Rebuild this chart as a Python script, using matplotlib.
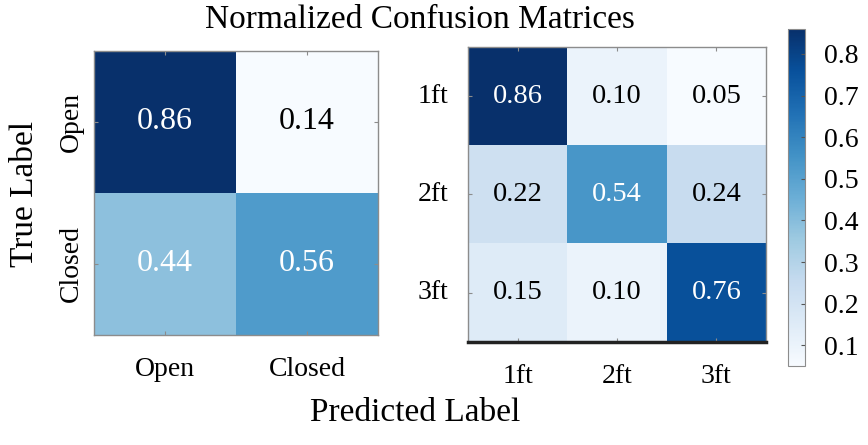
import numpy as np
import matplotlib
matplotlib.use("Agg")
import matplotlib.pyplot as plt
from matplotlib.colors import Normalize
from matplotlib.cm import ScalarMappable

# données
labels_oc = ['Open', 'Closed']
cm_oc = np.array([[0.86, 0.14],
                  [0.44, 0.56]])

labels_ft = ['1ft', '2ft', '3ft']
cm_ft = np.array([[0.86, 0.10, 0.05],
                  [0.22, 0.54, 0.24],
                  [0.15, 0.10, 0.76]])

cbar_ticks = [0.1, 0.2, 0.3, 0.4, 0.5, 0.6, 0.7, 0.8]

plt.rcParams['font.family'] = ['Liberation Serif', 'DejaVu Serif']

fig = plt.figure(figsize=(8.68, 4.45), dpi=100)
ax1 = fig.add_axes([0.1083, 0.2472, 0.3272, 0.6382])
ax2 = fig.add_axes([0.5392, 0.2315, 0.3433, 0.6629])
cax = fig.add_axes([0.9078, 0.1775, 0.0196, 0.7573])

spine_col = '#8c8c8c'


def draw_cm(ax, cm, labels, fs, rot_y, ypad):
    ax.imshow(cm, cmap='Blues', vmin=cm.min(), vmax=cm.max(), aspect='auto')
    thresh = cm.max() / 2
    for i in range(cm.shape[0]):
        for j in range(cm.shape[1]):
            ax.text(j, i, f"{cm[i, j]:.2f}", ha='center', va='center', fontsize=fs,
                    color='white' if cm[i, j] > thresh else 'black')
    n = len(labels)
    ax.set_xticks(range(n))
    ax.set_yticks(range(n))
    ax.set_xticklabels(labels, fontsize=20)
    ax.set_yticklabels(labels, fontsize=20, rotation=rot_y, va='center')
    ax.tick_params(direction='in', length=3, color=spine_col, top=True, right=True)
    ax.tick_params(axis='x', pad=16)
    ax.tick_params(axis='y', pad=ypad)
    for s in ax.spines.values():
        s.set_color(spine_col)
        s.set_linewidth(1)


draw_cm(ax1, cm_oc, labels_oc, 23, 90, 7)
draw_cm(ax2, cm_ft, labels_ft, 20.5, 0, 14)
ax2.spines['bottom'].set_color('#222222')
ax2.spines['bottom'].set_linewidth(2.5)

# barre de couleur
sm = ScalarMappable(norm=Normalize(cm_ft.min(), cm_ft.max()), cmap='Blues')
cb = fig.colorbar(sm, cax=cax, ticks=cbar_ticks)
cb.ax.tick_params(labelsize=20, direction='in', length=3, color='#555555', pad=14)
cb.set_ticklabels([f"{t:.1f}" for t in cbar_ticks])
cb.outline.set_edgecolor(spine_col)

fig.text(0.484, 0.955, 'Normalized Confusion Matrices', ha='center', va='center', fontsize=24)
fig.text(0.478, 0.072, 'Predicted Label', ha='center', va='center', fontsize=24)
fig.text(0.029, 0.565, 'True Label', ha='center', va='center', fontsize=24, rotation=90)

fig.savefig('out.png', dpi=100)
